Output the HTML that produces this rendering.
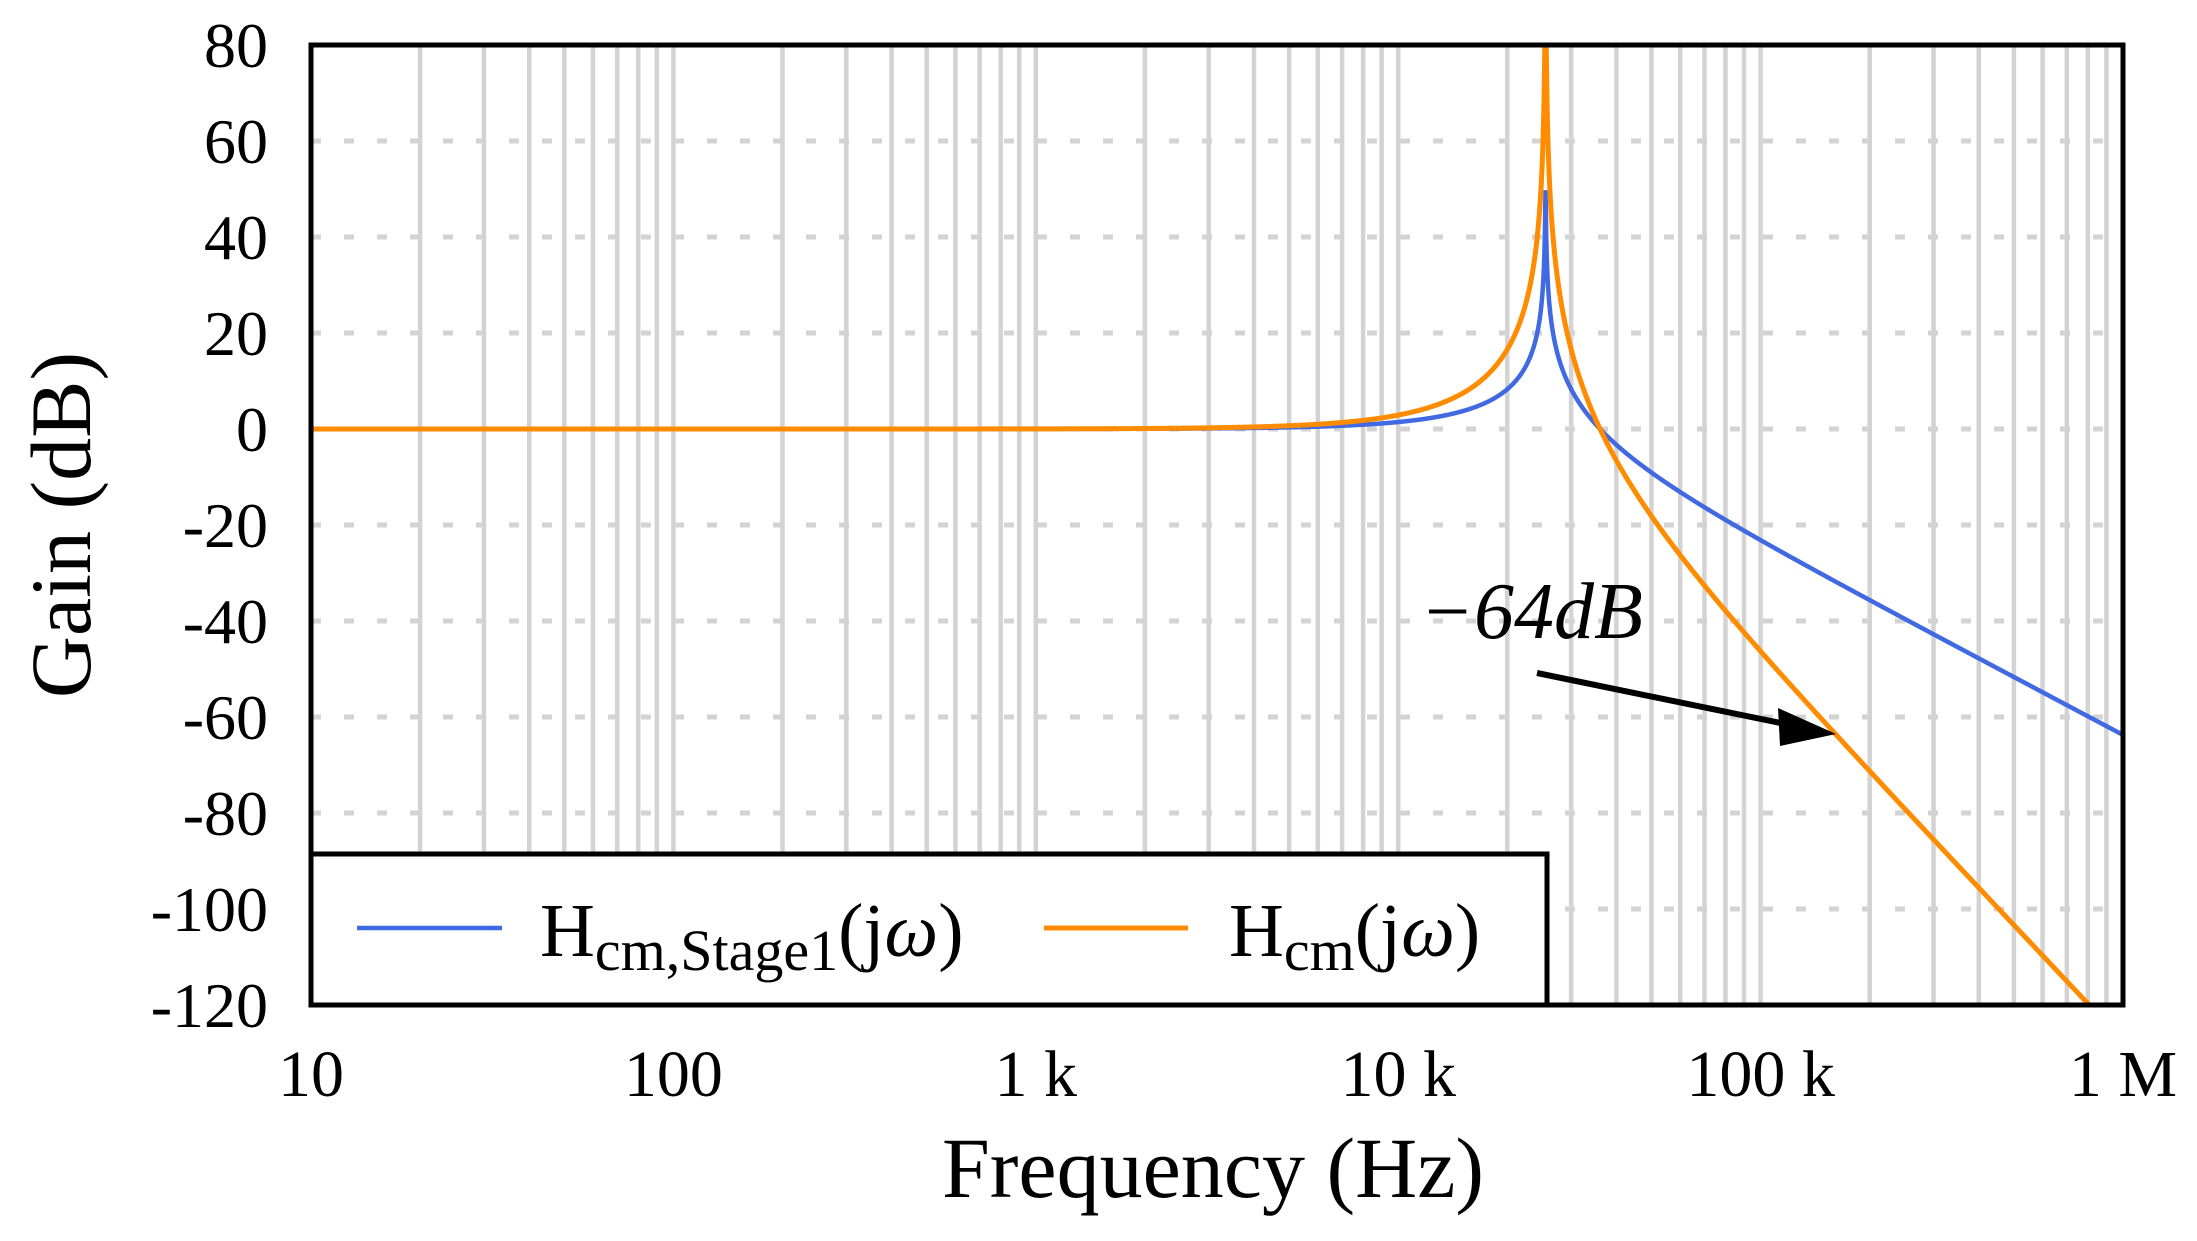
<!DOCTYPE html>
<html><head><meta charset="utf-8">
<style>
html,body{margin:0;padding:0;background:#fff;}
svg{display:block;}
text{font-family:"Liberation Serif",serif;fill:#000;}
</style></head>
<body>
<svg id="s" width="2197" height="1241" viewBox="0 0 2197 1241" xmlns="http://www.w3.org/2000/svg">
<defs><clipPath id="c"><rect x="311" y="45" width="1812" height="960"/></clipPath></defs>
<g id="grid"></g>
<g clip-path="url(#c)">
<path id="pb" fill="none" stroke="#4169E1" stroke-width="4.5"/>
<path id="po" fill="none" stroke="#FF8C00" stroke-width="5"/>
</g>
<rect x="311" y="45" width="1812" height="960" fill="none" stroke="#000" stroke-width="5"/>
<!-- legend -->
<rect x="311" y="854" width="1236" height="151" fill="#fff" stroke="#000" stroke-width="5"/>
<line x1="357" y1="928" x2="502" y2="928" stroke="#4169E1" stroke-width="4.5"/>
<text x="540" y="956" font-size="76">H<tspan font-size="58" dy="14">cm,Stage1</tspan><tspan dy="-14">(j<tspan font-style="italic">ω</tspan>)</tspan></text>
<line x1="1044" y1="928" x2="1188" y2="928" stroke="#FF8C00" stroke-width="5"/>
<text x="1229" y="956" font-size="76">H<tspan font-size="58" dy="14">cm</tspan><tspan dy="-14">(j<tspan font-style="italic">ω</tspan>)</tspan></text>
<!-- annotation -->
<text x="1420" y="638" font-size="80" font-style="italic">−64dB</text>
<line x1="1537" y1="673" x2="1790" y2="725" stroke="#000" stroke-width="6"/>
<polygon points="1836,734 1778,708 1780,746" fill="#000"/>
<g id="labels"></g>
<text x="1213" y="1197" font-size="86" text-anchor="middle">Frequency (Hz)</text>
<text transform="translate(90,525) rotate(-90)" font-size="86" text-anchor="middle">Gain (dB)</text>
</svg>
<script>
var L=311,R=2123,T=45,B=1005,pxd=362.4;
function X(f){return L+(Math.log10(f)-1)*pxd;}
function Y(d){return T+(80-d)*4.8;}
var g='';
for(var e=1;e<6;e++)for(var k=1;k<10;k++){if(e==1&&k==1)continue;var x=X(k*Math.pow(10,e));g+='<line x1="'+x+'" y1="45" x2="'+x+'" y2="1005" stroke="#d3d3d3" stroke-width="4.5"/>';}
for(var d=60;d>-120;d-=20){var y=Y(d);g+='<line x1="311" y1="'+y+'" x2="2123" y2="'+y+'" stroke="#d3d3d3" stroke-width="5" stroke-dasharray="10 23"/>';}
document.getElementById('grid').innerHTML=g;
var lb='';
for(var d=80;d>=-120;d-=20){lb+='<text x="268" y="'+(Y(d)+22)+'" font-size="64" text-anchor="end">'+d+'</text>';}
var xl=['10','100','1 k','10 k','100 k','1 M'];
for(var i=0;i<6;i++){lb+='<text x="'+(L+i*pxd)+'" y="1096" font-size="66" text-anchor="middle">'+xl[i]+'</text>';}
document.getElementById('labels').innerHTML=lb;
var f0=25500,z=0.0016,pb='',po='';
for(var i=0;i<=6000;i++){var lf=1+5*i/6000,f=Math.pow(10,lf),r=f/f0;
var m=Math.sqrt(Math.pow(1-r*r,2)+Math.pow(2*z*r,2));var db=-20*Math.log10(m);
var x=X(f).toFixed(2);var yb=Y(Math.min(db,120)).toFixed(2),yo=Y(Math.min(2*db,120)).toFixed(2);
pb+=(i?'L':'M')+x+','+yb;po+=(i?'L':'M')+x+','+yo;}
document.getElementById('pb').setAttribute('d',pb);
document.getElementById('po').setAttribute('d',po);
</script>
</body></html>
